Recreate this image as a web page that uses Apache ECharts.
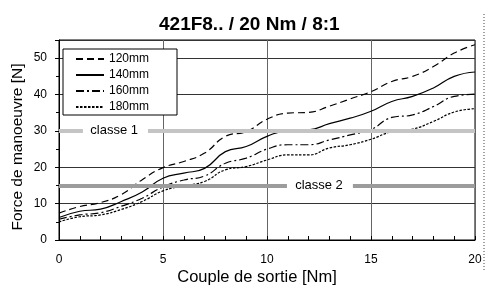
<!DOCTYPE html>
<html><head><meta charset="utf-8">
<script src="https://cdn.jsdelivr.net/npm/echarts@6/dist/echarts.min.js"></script>
<style>html,body{margin:0;padding:0;background:#fff}#c{width:486px;height:286px}</style>
</head><body><div id="c"></div>
<script>
var torque = [0,1,2,3,4,5,6,7,8,9,10,11,12,13,14,15,16,17,18,19,20];
var f120 = [7.4,9.2,10.3,12.5,16.6,19.9,21.6,23.9,28.5,29.8,33.2,34.9,35.1,36.8,38.8,40.8,43.6,45.0,47.7,51.4,53.7];
var f140 = [6.2,7.9,8.5,10.6,13.2,17.0,18.4,19.7,24.3,25.7,28.5,30.1,30.3,32.0,33.5,35.4,38.1,39.5,41.8,45.0,46.2];
var f160 = [5.7,6.9,7.5,9.3,11.5,14.6,16.5,17.6,21.1,22.5,25.0,26.2,26.2,27.5,28.9,30.4,33.7,34.4,36.7,39.5,40.1];
var f180 = [5.0,6.4,6.9,8.4,10.6,13.5,14.9,16.1,19.3,20.2,22.0,23.4,23.4,25.3,26.2,27.7,29.8,30.5,32.6,35.2,36.1];
var seriesNames = ['120mm','140mm','160mm','180mm'];
var classe1 = 30, classe2 = 15;
var classLabels = ['classe 1','classe 2'];

var FONT = 'Liberation Sans';
function pairs(ys){ return torque.map(function(x,i){ return [x, ys[i]]; }); }
var dashes = [[7,4],'solid',[8,3,2,3],[2.5,1.5]];
var allData = [f120,f140,f160,f180];

function classSegments(y, gapStart, gapEnd, color) {
  return [
    [{coord:[0,y], lineStyle:{color:color,width:4,type:'solid'}}, {coord:[gapStart,y]}],
    [{coord:[gapEnd,y], lineStyle:{color:color,width:4,type:'solid'}}, {coord:[20,y]}]
  ];
}
function classLabel(y, xc, label) {
  return {coord:[xc,y], symbol:'rect', symbolSize:1, itemStyle:{color:'rgba(0,0,0,0)'},
    label:{show:true, position:'inside', formatter:label, fontSize:13, color:'#000', fontFamily:FONT}};
}

var series = seriesNames.map(function(n,i){
  return {
    name:n, type:'line', data:pairs(allData[i]), symbol:'none', smooth:0.5, z:3,
    itemStyle:{color:'#000'},
    lineStyle:{color:'#000', width:1.2, type:dashes[i]}
  };
});
series.push({
  name:'classes', type:'line', data:[], symbol:'none', z:1, silent:true,
  markLine:{
    silent:true, symbol:'none', animation:false, label:{show:false},
    data: classSegments(classe1, 1.15, 4.28, '#c4c4c4')
      .concat(classSegments(classe2, 10.96, 14.13, '#9c9c9c'))
  },
  markPoint:{
    silent:true, animation:false,
    data:[classLabel(classe1, 2.65, classLabels[0]), classLabel(classe2, 12.5, classLabels[1])]
  }
});

var chart = echarts.init(document.getElementById('c'), null, {renderer:'canvas'});
chart.setOption({
  animation:false,
  backgroundColor:'#fff',
  textStyle:{fontFamily:FONT},
  title:{text:'421F8.. / 20 Nm / 8:1', left:154, top:10,
    textStyle:{fontSize:19, fontWeight:'bold', color:'#000', fontFamily:FONT}},
  grid:{left:59, right:11, top:40, bottom:46, show:true, borderColor:'#000', borderWidth:1,
    backgroundColor:'transparent', containLabel:false, outerBoundsMode:'none'},
  legend:{
    data:seriesNames, orient:'vertical', left:63, top:49,
    itemWidth:28, itemHeight:12, itemGap:4,
    padding:[4,28,2,12], borderColor:'#000', borderWidth:1, backgroundColor:'#fff',
    itemStyle:{opacity:0},
    textStyle:{fontSize:12, color:'#000', fontFamily:FONT},
    z:10
  },
  xAxis:{
    type:'value', min:0, max:20, interval:5,
    name:'Couple de sortie [Nm]', nameLocation:'middle', nameGap:29, nameMoveOverlap:false,
    nameTextStyle:{fontSize:16.5, color:'#000', fontFamily:FONT, padding:[0,20,0,0]},
    axisLine:{show:true, lineStyle:{color:'#000', width:1}},
    axisTick:{show:true, inside:true, length:4, lineStyle:{color:'#000'}},
    minorTick:{show:true, splitNumber:5, length:4, lineStyle:{color:'#000'}},
    axisLabel:{fontSize:12, color:'#000', margin:14, fontFamily:FONT},
    splitLine:{show:true, lineStyle:{color:'#666', width:1}}
  },
  yAxis:{
    type:'value', min:0, max:55, interval:10,
    name:'Force de manoeuvre [N]', nameLocation:'middle', nameGap:33, nameMoveOverlap:false,
    nameTextStyle:{fontSize:15.5, color:'#000', fontFamily:FONT, padding:[0,14,0,0]},
    axisLine:{show:true, lineStyle:{color:'#000', width:1}},
    axisTick:{show:true, inside:false, length:4, lineStyle:{color:'#000'}},
    minorTick:{show:true, splitNumber:2, length:3, lineStyle:{color:'#000'}},
    axisLabel:{fontSize:12, color:'#000', margin:12, fontFamily:FONT, showMaxLabel:false},
    splitLine:{show:true, lineStyle:{color:['#333','#333','#333','rgba(0,0,0,0)','#333','#333','#333'], width:1}}
  },
  graphic:[{
    type:'line', shape:{x1:484, y1:14, x2:484, y2:270},
    style:{stroke:'#444', lineWidth:1, lineDash:[1,2]}
  }],
  series:series
});
</script></body></html>
